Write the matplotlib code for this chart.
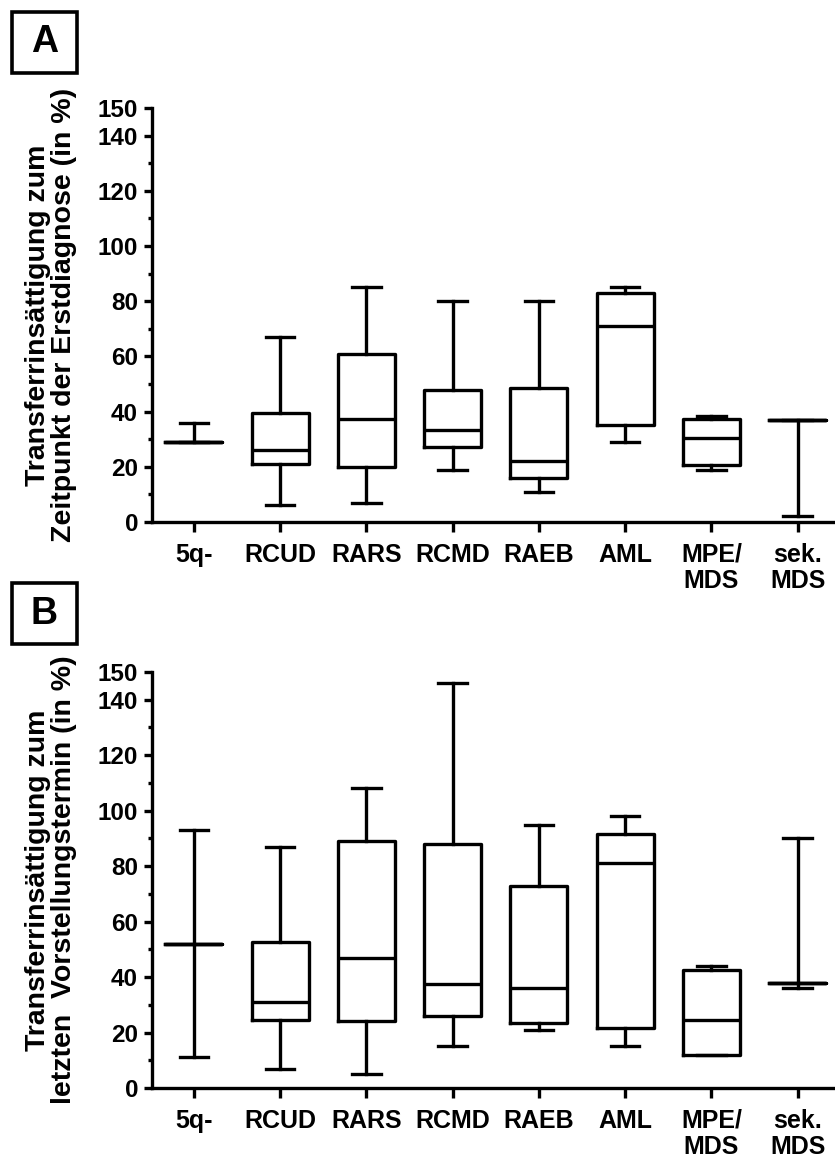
import matplotlib
matplotlib.use("Agg")
import matplotlib.pyplot as plt
from matplotlib.patches import Rectangle

plt.rcParams['font.family'] = ['Liberation Sans', 'DejaVu Sans']
plt.rcParams['font.weight'] = 'bold'

# Kategorien
kategorien = ["5q-", "RCUD", "RARS", "RCMD", "RAEB", "AML", "MPE/\nMDS", "sek.\nMDS"]

# A: Zeitpunkt der Erstdiagnose
a_min = [29, 6, 7, 19, 11, 29, 19, 2]
a_q1 = [29, 21, 20, 27, 16, 35, 20.5, 37]
a_med = [29, 26, 37.5, 33.5, 22, 71, 30.5, 37]
a_q3 = [29, 39.5, 61, 48, 48.5, 83, 37.5, 37]
a_max = [36, 67, 85, 80, 80, 85, 38.5, 37]

# B: letzter Vorstellungstermin
b_min = [11, 7, 5, 15, 21, 15, 12, 36]
b_q1 = [52, 24.5, 24, 26, 23.5, 21.5, 12, 38]
b_med = [52, 31, 47, 37.5, 36, 81, 24.5, 38]
b_q3 = [52, 52.5, 89, 88, 73, 91.5, 42.5, 38]
b_max = [93, 87, 108, 146, 95, 98, 44, 90]

ylabel_a = "Transferrinsättigung zum\nZeitpunkt der Erstdiagnose (in %)"
ylabel_b = "Transferrinsättigung zum\nletzten  Vorstellungstermin (in %)"

W, H = 835, 1158
fig = plt.figure(figsize=(W / 100, H / 100), dpi=100)

LW = 2.4
FS = 17.5


def boxplot_panel(rect, mins, q1s, meds, q3s, maxs, ylabel, buchstabe, box_top):
    ax = fig.add_axes(rect)
    stats = []
    for lo, q1, med, q3, hi in zip(mins, q1s, meds, q3s, maxs):
        stats.append({"whislo": lo, "q1": q1, "med": med, "q3": q3, "whishi": hi, "fliers": []})
    pos = list(range(len(stats)))
    props = dict(color="black", linewidth=LW, solid_capstyle="projecting")
    ax.bxp(stats, positions=pos, widths=0.66, capwidths=0.33, showfliers=False,
           boxprops=props, whiskerprops=props, capprops=props,
           medianprops=dict(color="black", linewidth=LW))

    ax.set_xlim(-0.485, 7.41)
    ax.set_ylim(0, 150)
    ax.set_xticks(pos)
    ax.set_xticklabels(kategorien, fontsize=18, fontweight="bold", linespacing=1.1)
    ax.set_yticks([0, 20, 40, 60, 80, 100, 120, 140, 150])
    ax.set_yticks(list(range(10, 140, 20)), minor=True)
    ax.tick_params(axis="y", which="major", length=6, width=LW, labelsize=FS, pad=4)
    ax.tick_params(axis="y", which="minor", length=3, width=LW)
    ax.tick_params(axis="x", which="major", length=7, width=LW, pad=8)
    for lab in ax.get_yticklabels():
        lab.set_fontweight("bold")

    for s in ["top", "right"]:
        ax.spines[s].set_visible(False)
    for s in ["left", "bottom"]:
        ax.spines[s].set_linewidth(LW)

    # y-Achsenbeschriftung
    cy = rect[1] + rect[3] / 2
    fig.text(51 / W, cy, ylabel, rotation=90, ha="center", va="center",
             multialignment="center", fontsize=20.5, fontweight="bold", linespacing=1.0)

    # Panelbuchstabe im Kasten
    x0, x1 = 12, 77
    y0, y1 = box_top, box_top + 61
    fig.patches.append(Rectangle((x0 / W, 1 - y1 / H), (x1 - x0) / W, (y1 - y0) / H,
                                 transform=fig.transFigure, fill=False,
                                 edgecolor="black", linewidth=2.6))
    fig.text((x0 + x1) / 2 / W, 1 - (y0 + y1) / 2 / H, buchstabe, ha="center", va="center",
             fontsize=27, fontweight="bold")
    return ax


left = 152 / W
width = 681 / W
boxplot_panel([left, 1 - 522 / H, width, 414 / H], a_min, a_q1, a_med, a_q3, a_max,
              ylabel_a, "A", 12)
boxplot_panel([left, 1 - 1088 / H, width, 416 / H], b_min, b_q1, b_med, b_q3, b_max,
              ylabel_b, "B", 583)

fig.savefig("out.png", dpi=100)
